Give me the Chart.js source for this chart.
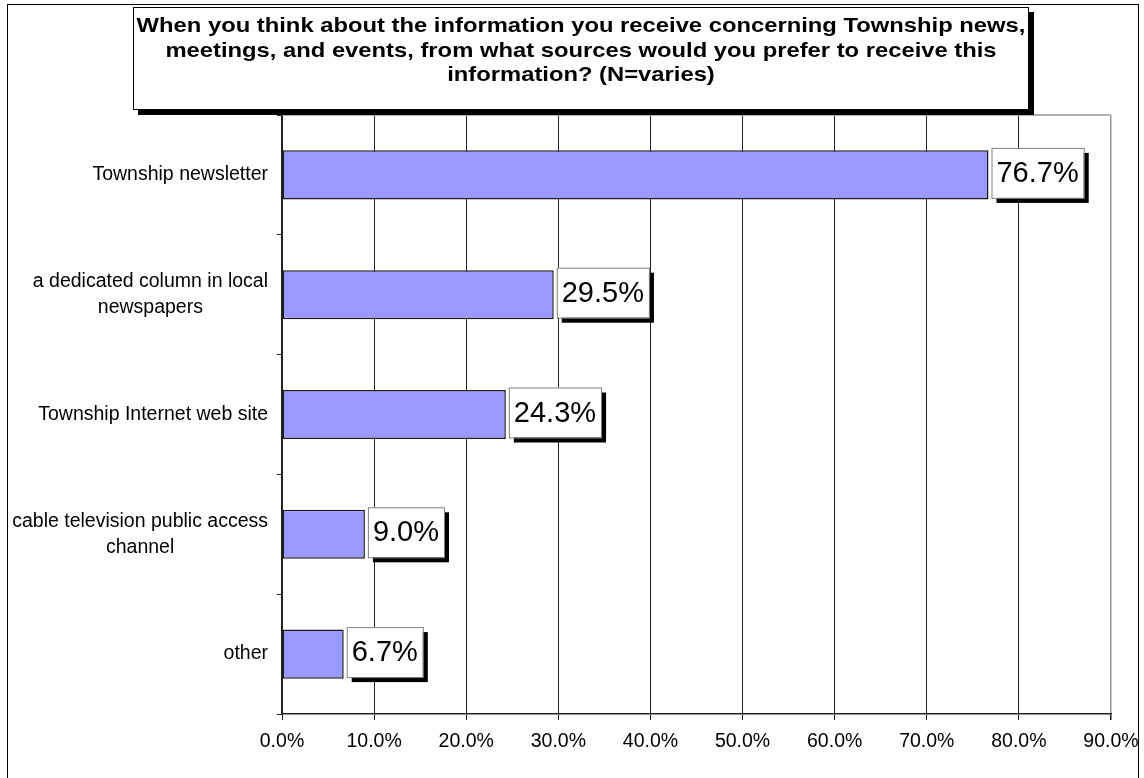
<!DOCTYPE html>
<html>
<head>
<meta charset="utf-8">
<script src="https://cdn.jsdelivr.net/npm/chart.js@4.4.1/dist/chart.umd.min.js"></script>
<style>
  html, body { margin: 0; padding: 0; background: #fff; overflow: hidden; }
  #frame { position: absolute; left: 7px; top: 4px; width: 1130px; height: 800px; border: 1.5px solid #000; }
  #wrap { position: absolute; left: 0; top: 0; width: 1144px; height: 778px; }
  #title {
    position: absolute; left: 133px; top: 7px; width: 896px; height: 103px;
    border: 1px solid #000; background: #fff; box-shadow: 5px 5px 0 #000;
    box-sizing: border-box; overflow: hidden;
  }
  #title div {
    font: bold 20.5px "Liberation Sans", Arial, sans-serif; color: #000;
    text-align: center; line-height: 24.5px; margin-top: 5px;
    transform: scaleX(1.16); transform-origin: 50% 0;
  }
</style>
</head>
<body>
<div id="frame"></div>
<div id="wrap"><canvas id="sourcesChart" width="1144" height="778"></canvas></div>
<div id="title"><div>When you think about the information you receive concerning Township news,<br>meetings, and events, from what sources would you prefer to receive this<br>information? (N=varies)</div></div>
<script>
// preferred information sources, percent of respondents
const categories = [
  ['Township newsletter'],
  ['a dedicated column in local', 'newspapers'],
  ['Township Internet web site'],
  ['cable television public access', 'channel'],
  ['other']
];
const shares = [76.7, 29.5, 24.3, 9.0, 6.7];
const xTicks = [0, 10, 20, 30, 40, 50, 60, 70, 80, 90];

const FONT = '"Liberation Sans", Arial, sans-serif';

// category names: block right-aligned against the axis, lines centred in the block
const catLabels = {
  id: 'catLabels',
  afterDraw(chart) {
    const ctx = chart.ctx, y = chart.scales.y;
    ctx.save();
    ctx.font = '19.5px ' + FONT;
    ctx.fillStyle = '#000';
    ctx.textAlign = 'center';
    ctx.textBaseline = 'middle';
    const lh = 26;
    categories.forEach((lines, i) => {
      const w = Math.max(...lines.map(l => ctx.measureText(l).width));
      const cx = chart.chartArea.left - 14 - w / 2;
      const cy = y.getPixelForValue(i);
      lines.forEach((l, k) => {
        ctx.fillText(l, cx, cy + (k - (lines.length - 1) / 2) * lh);
      });
    });
    ctx.restore();
  }
};

// boxed value labels with a hard drop shadow
const valueBoxes = {
  id: 'valueBoxes',
  afterDatasetsDraw(chart) {
    const ctx = chart.ctx;
    const meta = chart.getDatasetMeta(0);
    ctx.save();
    ctx.font = '29px ' + FONT;
    ctx.textBaseline = 'middle';
    ctx.textAlign = 'left';
    meta.data.forEach((bar, i) => {
      const txt = shares[i].toFixed(1) + '%';
      const tw = ctx.measureText(txt).width;
      const bx = bar.x + 3, by = bar.y - 27, bw = tw + 10, bh = 50;
      ctx.fillStyle = '#000';
      ctx.fillRect(bx + 5, by + 5, bw, bh);
      ctx.fillStyle = '#fff';
      ctx.fillRect(bx, by, bw, bh);
      ctx.strokeStyle = '#808080';
      ctx.lineWidth = 1;
      ctx.strokeRect(bx + 0.5, by + 0.5, bw, bh);
      ctx.fillStyle = '#000';
      ctx.fillText(txt, bx + 5, by + bh / 2 + 1);
    });
    ctx.restore();
  }
};

// grey frame on the top of the plot area
const plotFrame = {
  id: 'plotFrame',
  beforeDatasetsDraw(chart) {
    const { left, right, top } = chart.chartArea;
    const ctx = chart.ctx;
    ctx.save();
    ctx.strokeStyle = '#999';
    ctx.lineWidth = 1.5;
    ctx.beginPath();
    ctx.moveTo(left, top);
    ctx.lineTo(right, top);
    ctx.stroke();
    ctx.restore();
  }
};

new Chart(document.getElementById('sourcesChart'), {
  type: 'bar',
  data: {
    labels: categories,
    datasets: [{
      data: shares,
      backgroundColor: '#9999FF',
      borderColor: '#1a1a1a',
      borderWidth: 1.5,
      borderSkipped: false,
      barPercentage: 0.41,
      categoryPercentage: 1
    }]
  },
  options: {
    indexAxis: 'y',
    responsive: false,
    animation: false,
    layout: { padding: { left: 0, top: 115, right: 33, bottom: 0 } },
    plugins: { legend: { display: false }, tooltip: { enabled: false } },
    scales: {
      x: {
        min: 0, max: 90,
        afterBuildTicks: s => { s.ticks = xTicks.map(v => ({ value: v })); },
        afterFit: s => { s.height = 64; s.paddingRight = 0; s.paddingLeft = 0; },
        ticks: {
          color: '#000',
          font: { family: FONT, size: 19.5 },
          padding: 10,
          maxRotation: 0,
          callback: v => v.toFixed(1) + '%'
        },
        grid: {
          color: c => (c.tick && c.tick.value === 90) ? '#999' : '#222',
          lineWidth: c => (c.tick && c.tick.value === 90) ? 1.5 : 1,
          tickLength: 6,
          tickColor: '#222'
        },
        border: { color: '#222', width: 1.5 }
      },
      y: {
        afterFit: s => { s.width = 282; },
        ticks: { display: false },
        grid: {
          offset: true,
          drawOnChartArea: false,
          tickLength: 5,
          color: '#222'
        },
        border: { color: '#222', width: 1.5 }
      }
    }
  },
  plugins: [plotFrame, valueBoxes, catLabels]
});
</script>
</body>
</html>
